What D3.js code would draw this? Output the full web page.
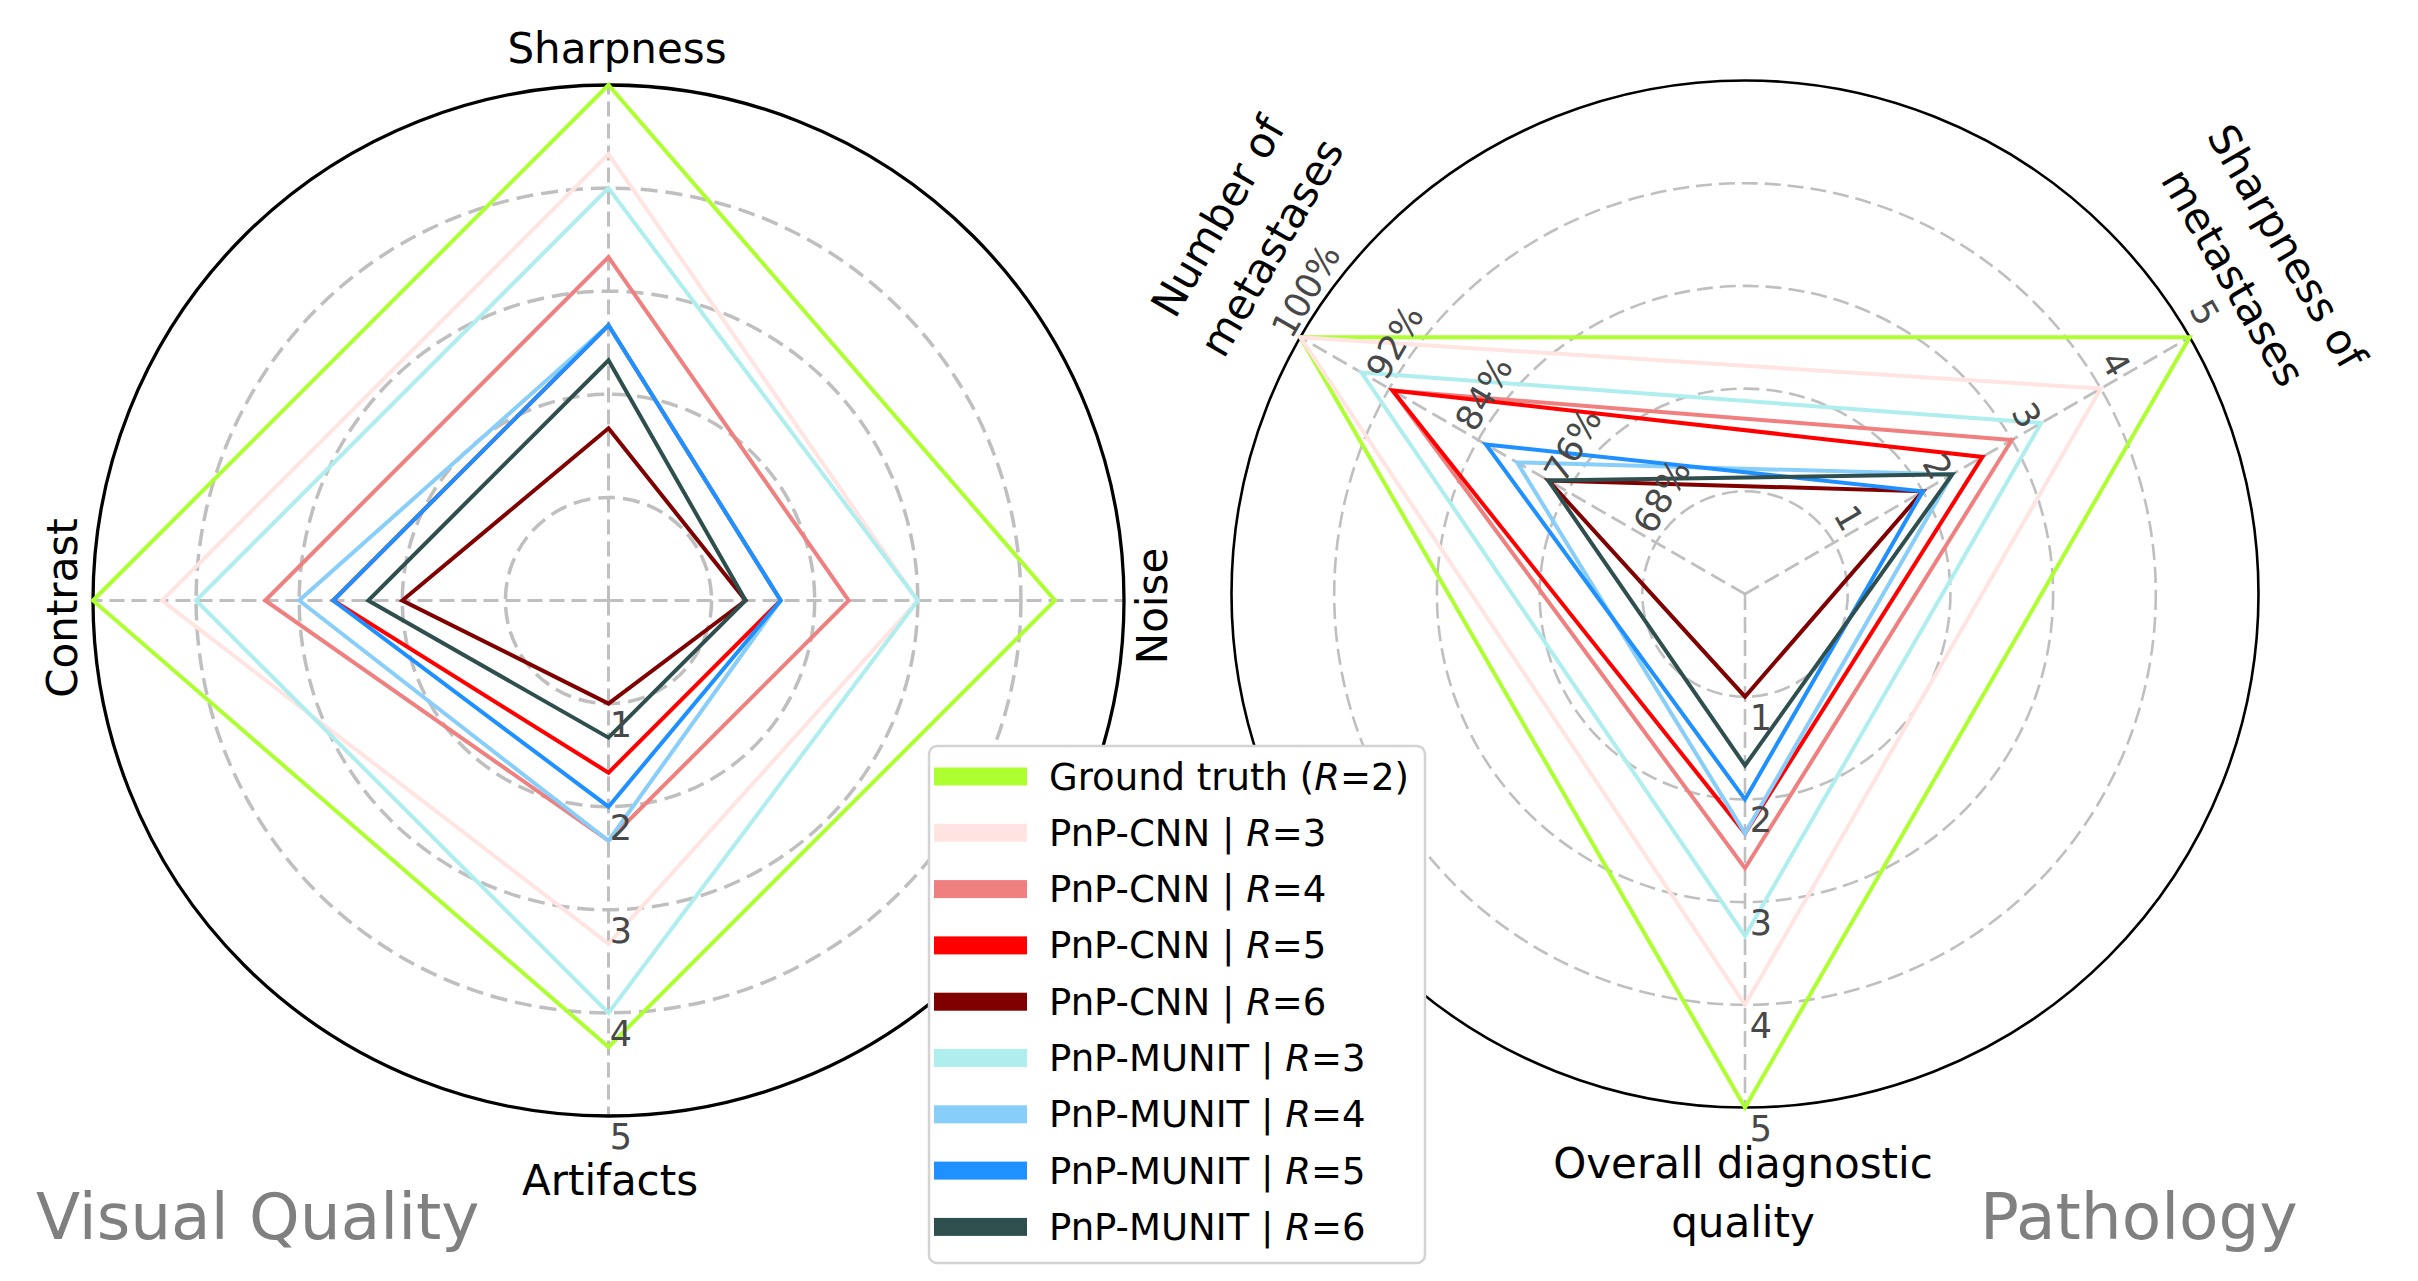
<!DOCTYPE html>
<meta charset="utf-8">
<style>
body { margin: 0; background: #fff; }
svg text { font-family: "DejaVu Sans", sans-serif; }
</style>
<script src="https://d3js.org/d3.v7.min.js"></script>
<div id="chart"></div>
<script>

// series (legend order = drawing order)
var models = ["Ground truth", "PnP-CNN", "PnP-CNN", "PnP-CNN", "PnP-CNN",
              "PnP-MUNIT", "PnP-MUNIT", "PnP-MUNIT", "PnP-MUNIT"];
var factors = [2, 3, 4, 5, 6, 3, 4, 5, 6];
var colors = ["#adff2f", "#ffe4e1", "#f08080", "#ff0000", "#800000",
              "#afeeee", "#87cefa", "#1e90ff", "#2f4f4f"];

// Visual Quality scores (0-5)
var visualAxes = ["Sharpness", "Noise", "Artifacts", "Contrast"];
var sharpness = [5, 4.33, 3.33, 2.67, 1.67, 4, 2.67, 2.67, 2.33];
var noise     = [4.33, 3, 2.33, 1.67, 1.33, 3, 1.67, 1.67, 1.33];
var artifacts = [4.33, 3.33, 2.33, 1.67, 1, 4, 2.33, 2, 1.33];
var contrast  = [5, 4.33, 3.33, 2.67, 2, 4, 3, 2.67, 2.33];
var visualTicks = [1, 2, 3, 4, 5];

// Pathology
var numMetastases   = [100, 100, 91.7, 91.7, 77.7, 94.5, 80.5, 83.3, 77.7];   // %
var sharpMetastases = [5, 4, 3, 2.67, 2, 3.33, 2.33, 2, 2.33];
var overallQuality  = [5, 4, 2.67, 2.33, 1, 3.33, 2.33, 2, 1.67];
var pctTicks = [68, 76, 84, 92, 100];
var scoreTicks = [1, 2, 3, 4, 5];

var W = 2418, H = 1281;
var svg = d3.select("#chart").append("svg")
    .attr("width", W)
    .attr("height", H);

var gridColor = "#bfbfbf";
var tickColor = "#484848";
var tickFont = 35;
var axisFont = 42;

// ---------------- Visual Quality ----------------
var L = {cx: 608.5, cy: 600.5, R: 515.5};
var rVis = d3.scaleLinear().domain([0, 5]).range([0, L.R]);
var visAngles = [0, Math.PI / 2, Math.PI, 3 * Math.PI / 2];

var gL = svg.append("g")
    .attr("transform", "translate(" + L.cx + "," + L.cy + ")");

gL.selectAll(".ring")
  .data([1, 2, 3, 4])
  .enter().append("circle")
    .attr("r", function(d) { return rVis(d); })
    .attr("fill", "none")
    .attr("stroke", gridColor)
    .attr("stroke-width", 3.5)
    .attr("stroke-dasharray", "17,8");

gL.selectAll(".spoke")
  .data(visAngles)
  .enter().append("line")
    .attr("x1", 0).attr("y1", 0)
    .attr("x2", function(a) { return d3.pointRadial(a, L.R)[0]; })
    .attr("y2", function(a) { return d3.pointRadial(a, L.R)[1]; })
    .attr("stroke", gridColor)
    .attr("stroke-width", 3)
    .attr("stroke-dasharray", "15,7");

gL.append("circle")
    .attr("r", L.R)
    .attr("fill", "none")
    .attr("stroke", "#000")
    .attr("stroke-width", 3.3);

var visLine = d3.lineRadial()
    .angle(function(d, i) { return visAngles[i]; })
    .radius(function(d) { return rVis(d); })
    .curve(d3.curveLinearClosed);

var visData = models.map(function(m, i) {
  return [sharpness[i], noise[i], artifacts[i], contrast[i]];
});

gL.selectAll(".series")
  .data(visData)
  .enter().append("path")
    .attr("d", visLine)
    .attr("fill", "none")
    .attr("stroke", function(d, i) { return colors[i]; })
    .attr("stroke-width", 4)
    .attr("stroke-linejoin", "miter");

// ticks along Artifacts axis
gL.selectAll(".tick")
  .data(visualTicks)
  .enter().append("text")
    .attr("x", function(d) { return d3.pointRadial(Math.PI, rVis(d))[0] + 12.5; })
    .attr("y", function(d) { return d3.pointRadial(Math.PI, rVis(d))[1] + 21; })
    .attr("text-anchor", "middle")
    .attr("dominant-baseline", "central")
    .attr("font-size", tickFont)
    .attr("fill", tickColor)
    .text(function(d) { return d; });

// axis labels
gL.append("text").attr("x", 8.5).attr("y", -L.R - 22.5)
    .attr("text-anchor", "middle").attr("font-size", axisFont).text(visualAxes[0]);
gL.append("text").attr("transform", "translate(" + (L.R + 43) + ",5.5) rotate(-90)")
    .attr("text-anchor", "middle").attr("font-size", axisFont).text(visualAxes[1]);
gL.append("text").attr("x", 1.5).attr("y", L.R + 79)
    .attr("text-anchor", "middle").attr("font-size", axisFont).text(visualAxes[2]);
gL.append("text").attr("transform", "translate(" + (-L.R - 16) + ",7.5) rotate(-90)")
    .attr("text-anchor", "middle").attr("font-size", axisFont).text(visualAxes[3]);

// ---------------- Pathology ----------------
var P = {cx: 1745, cy: 594, R: 513.5};
var rScore = d3.scaleLinear().domain([0, 5]).range([0, P.R]);
var rPct = d3.scaleLinear().domain([60, 100]).range([0, P.R]);
var pathAngles = [-Math.PI / 3, Math.PI / 3, Math.PI];
var pathScales = [rPct, rScore, rScore];

var gP = svg.append("g")
    .attr("transform", "translate(" + P.cx + "," + P.cy + ")");

gP.selectAll(".ring")
  .data([1, 2, 3, 4])
  .enter().append("circle")
    .attr("r", function(d) { return rScore(d); })
    .attr("fill", "none")
    .attr("stroke", gridColor)
    .attr("stroke-width", 2.6)
    .attr("stroke-dasharray", "16,7");

gP.selectAll(".spoke")
  .data(pathAngles)
  .enter().append("line")
    .attr("x1", 0).attr("y1", 0)
    .attr("x2", function(a) { return d3.pointRadial(a, P.R)[0]; })
    .attr("y2", function(a) { return d3.pointRadial(a, P.R)[1]; })
    .attr("stroke", gridColor)
    .attr("stroke-width", 2.6)
    .attr("stroke-dasharray", "16,7");

gP.append("circle")
    .attr("r", P.R)
    .attr("fill", "none")
    .attr("stroke", "#000")
    .attr("stroke-width", 2.6);

var pathLine = d3.lineRadial()
    .angle(function(d, i) { return pathAngles[i]; })
    .radius(function(d, i) { return pathScales[i](d); })
    .curve(d3.curveLinearClosed);

var pathData = models.map(function(m, i) {
  return [numMetastases[i], sharpMetastases[i], overallQuality[i]];
});

gP.selectAll(".series")
  .data(pathData)
  .enter().append("path")
    .attr("d", pathLine)
    .attr("fill", "none")
    .attr("stroke", function(d, i) { return colors[i]; })
    .attr("stroke-width", 4)
    .attr("stroke-linejoin", "miter");

// tick labels: rotation and offset in the rotated text frame
var pathTicks = [
  {axis: 0, values: pctTicks, fmt: function(v) { return v + "%"; }, rot: -60, ox: 43, oy: -18},
  {axis: 1, values: scoreTicks, fmt: String, rot: 60, ox: -14, oy: -25},
  {axis: 2, values: scoreTicks, fmt: String, rot: 0, ox: 16, oy: 21}
];
pathTicks.forEach(function(t) {
  gP.selectAll(".tick" + t.axis)
    .data(t.values)
    .enter().append("text")
      .attr("transform", function(v) {
        var p = d3.pointRadial(pathAngles[t.axis], pathScales[t.axis](v));
        return "translate(" + p[0] + "," + p[1] + ") rotate(" + t.rot + ") translate(" + t.ox + "," + t.oy + ")";
      })
      .attr("text-anchor", "middle")
      .attr("dominant-baseline", "central")
      .attr("font-size", tickFont)
      .attr("fill", tickColor)
      .text(t.fmt);
});

// axis labels (two lines each)
function twoLines(g, lines, x, y, rot, gap) {
  var t = g.append("g").attr("transform", "translate(" + x + "," + y + ") rotate(" + rot + ")");
  lines.forEach(function(s, i) {
    t.append("text")
      .attr("y", (i - 0.5) * gap)
      .attr("text-anchor", "middle")
      .attr("dominant-baseline", "central")
      .attr("font-size", axisFont)
      .text(s);
  });
}
twoLines(gP, ["Number of", "metastases"], -500, -362, -60, 62);
twoLines(gP, ["Sharpness of", "metastases"], 515, -332, 60, 62);
gP.append("text").attr("x", -2).attr("y", 584)
    .attr("text-anchor", "middle").attr("font-size", axisFont).text("Overall diagnostic");
gP.append("text").attr("x", -2).attr("y", 643)
    .attr("text-anchor", "middle").attr("font-size", axisFont).text("quality");

// ---------------- titles ----------------
svg.append("text").attr("x", 36).attr("y", 1239)
    .attr("font-size", 64.5).attr("fill", "#808080").text("Visual Quality");
svg.append("text").attr("x", 1980).attr("y", 1239)
    .attr("font-size", 64.5).attr("fill", "#808080").text("Pathology");

// ---------------- legend ----------------
var leg = svg.append("g").attr("transform", "translate(929,746)");
leg.append("rect")
    .attr("width", 496).attr("height", 517)
    .attr("rx", 8)
    .attr("fill", "#fff")
    .attr("stroke", "#d3d3d3")
    .attr("stroke-width", 2.5);

var rows = leg.selectAll(".row")
  .data(models)
  .enter().append("g")
    .attr("transform", function(d, i) { return "translate(0," + (30.5 + i * 56.3) + ")"; });

rows.append("rect")
    .attr("x", 5).attr("y", -9)
    .attr("width", 93).attr("height", 18)
    .attr("fill", function(d, i) { return colors[i]; });

var lt = rows.append("text")
    .attr("x", 120).attr("y", 13)
    .attr("font-size", 37);
lt.append("tspan").text(function(d, i) { return i === 0 ? d + " (" : d + " | "; });
lt.append("tspan").attr("font-style", "italic").text("R");
lt.append("tspan").text(function(d, i) { return "=" + factors[i] + (i === 0 ? ")" : ""); });

</script>
